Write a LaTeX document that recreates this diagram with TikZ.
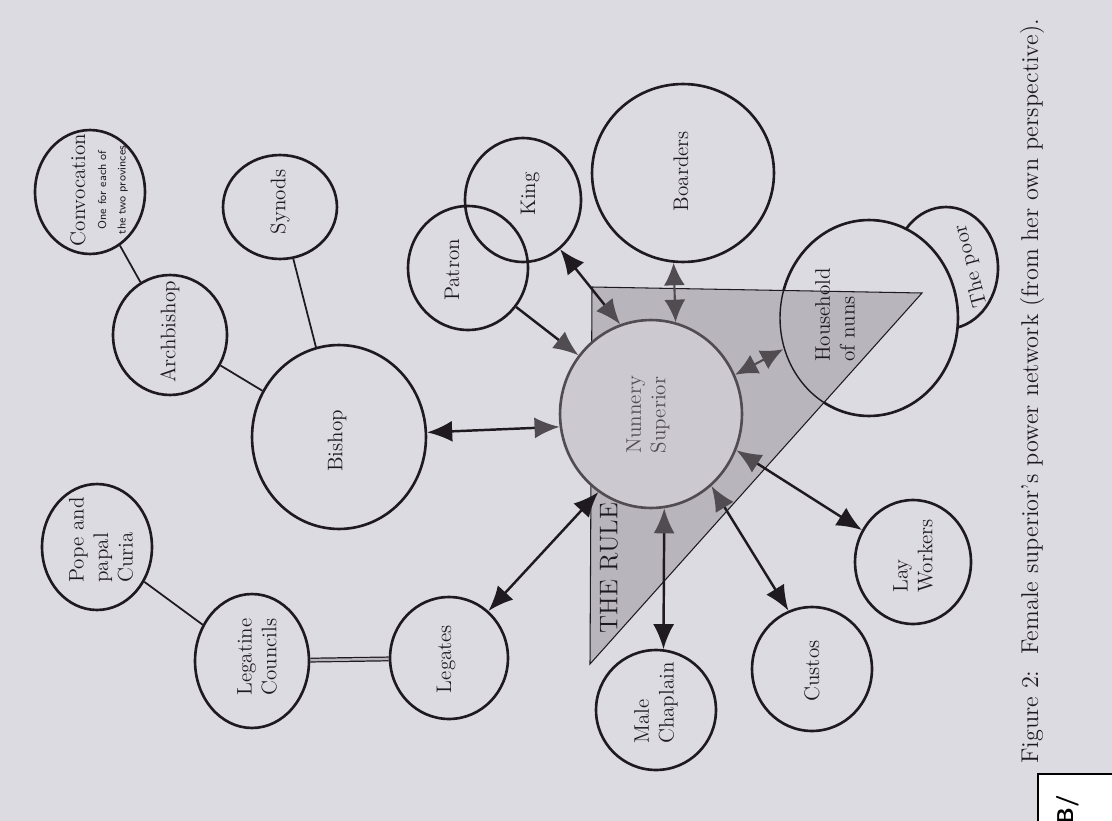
\documentclass[tikz,border=0pt]{standalone}
\usetikzlibrary{shapes.geometric,arrows.meta}
\definecolor{paper}{RGB}{221,219,226}
\definecolor{ink}{RGB}{30,26,32}
\definecolor{rulegray}{RGB}{184,181,188}
\definecolor{nungray}{RGB}{204,202,208}
\definecolor{tipgray}{RGB}{80,76,82}
\tikzset{
  circ/.style 2 args={draw=ink, ellipse, line width=1.5pt, inner sep=0pt,
    minimum width=#1*0.04cm, minimum height=#2*0.04cm},
  lbl/.style={rotate=90, align=center, text=ink, font=\fontsize{12}{14}\selectfont},
  link/.style={draw=ink, line width=1pt},
  twoway/.style={draw=ink, line width=1.4pt, {Latex[length=5mm,width=4.2mm]}-{Latex[length=5mm,width=4.2mm]}},
  twogray/.style={draw=ink, line width=1.4pt, {Latex[length=5mm,width=4.2mm]}-{Latex[length=5mm,width=4.2mm,color=tipgray]}},
  allgray/.style={draw=tipgray, line width=1.2pt, {Latex[length=4.5mm,width=4.2mm,color=tipgray]}-{Latex[length=4.5mm,width=4.2mm,color=tipgray]}},
}
\begin{document}
\begin{tikzpicture}[x=0.02cm, y=-0.02cm]
  \useasboundingbox (0,0) rectangle (1112,821);
  \clip (0,0) rectangle (1112,821);
  \fill[paper] (0,0) rectangle (1112,821);

  % church side
  \node[circ={55}{62}] (conv) at (90,192) {};
  \node[lbl] (conv-t) at (99,190) {Convocation\\[-2pt]
    {\sffamily\fontsize{6.5}{7}\selectfont One for each of}\\[-3pt]
    {\sffamily\fontsize{6.5}{7}\selectfont the two provinces}};
  \node[circ={57}{52}] (synods) at (280,207) {};
  \node[lbl] (synods-t) at (280,202) {Synods};
  \node[circ={57}{60}] (arch) at (170,335) {};
  \node[lbl] (arch-t) at (170,332) {Archbishop};
  \node[circ={87}{92}] (bishop) at (339,437) {};
  \node[lbl] (bishop-t) at (337,441) {Bishop};
  \node[circ={55}{63}] (pope) at (97,547) {};
  \node[lbl, align=left] (pope-t) at (101,540) {Pope and\\papal\\Curia};
  \node[circ={57}{67}] (legcoun) at (252,661) {};
  \node[lbl] (legcoun-t) at (257,657) {Legatine\\Councils};
  \node[circ={59}{61}] (legates) at (449,658) {};
  \node[lbl] (legates-t) at (446,659) {Legates};

  \draw[link] (conv) -- (arch);
  \draw[link] (arch) -- (bishop);
  \draw[link] (synods) -- (bishop);
  \draw[link] (pope) -- (legcoun);
  \draw[ink, line width=0.7pt, double=rulegray, double distance=1.4pt] (legcoun) -- (legates);

  % household side
  \node[circ={52}{61}, fill=paper] (poor) at (946,268) {};
  \node[lbl, rotate=15] (poor-t) at (971,266) {The poor};
  \node[circ={89}{98}, fill=paper] (house) at (869,318) {};

  % the rule
  \fill[rulegray] (592,287) -- (922,293) -- (590,664) -- cycle;
  \draw[ink, line width=0.6pt] (592,287) -- (922,293) -- (590,664) -- cycle;
  \draw[ink, line width=0.8pt] (house) ellipse [x radius=89, y radius=98];
  \node[lbl, font=\fontsize{14.5}{15}\selectfont] (rule) at (609,568) {THE RULE};
  \node[lbl, align=left] (house-t) at (835,315) {Household\\of nuns};

  \node[circ={91}{94}, fill=nungray, draw=tipgray] (nun) at (651,414) {};
  \node[lbl, text=tipgray] (nun-t) at (648,415) {Nunnery\\Superior};

  \node[circ={91}{89}] (boarders) at (683,173) {};
  \node[lbl] (boarders-t) at (681,171) {Boarders};
  \node[circ={58}{62}] (king) at (523,200) {};
  \node[lbl] (king-t) at (530,194) {King};
  \node[circ={60}{62}] (patron) at (468,268) {};
  \node[lbl] (patron-t) at (452,270) {Patron};
  \node[circ={60}{60}] (chaplain) at (656,710) {};
  \node[lbl, align=left] (chaplain-t) at (656,703) {Male\\Chaplain};
  \node[circ={60}{62}] (custos) at (812,669) {};
  \node[lbl] (custos-t) at (812,671) {Custos};
  \node[circ={58}{62}] (lay) at (913,562) {};
  \node[lbl, align=left] (lay-t) at (913,556) {Lay\\Workers};

  % arrows to the superior
  \draw[twogray] (bishop.3) -- (nun.188);
  \draw[twoway] (legates.50) -- (nun.236);
  \draw[twogray] (chaplain.83) -- (nun.278);
  \draw[twogray] (custos.112) -- (nun.310);
  \draw[twogray] (lay.148) -- (nun.337);
  \draw[allgray] (house.200) -- (nun.25);
  \draw[allgray] (boarders.264) -- (nun.75);
  \draw[twogray] (king.307) -- (nun.109);
  \draw[ink, line width=1.4pt, -{Latex[length=5mm,width=4.2mm,color=tipgray]}] (patron.321) -- (nun.141);

  \node[rotate=90, anchor=west, text=ink, font=\fontsize{13.8}{15}\selectfont] (cap) at (1032,770)
    {Figure 2:\ \ Female superior’s power network (from her own perspective).};

  \draw[black, line width=1.2pt, fill=white] (1038,774) rectangle (1130,840);
  \node[rotate=90, font=\sffamily\bfseries\fontsize{13}{13}\selectfont] (box-t) at (1068,810) {B/};
\end{tikzpicture}
\end{document}
